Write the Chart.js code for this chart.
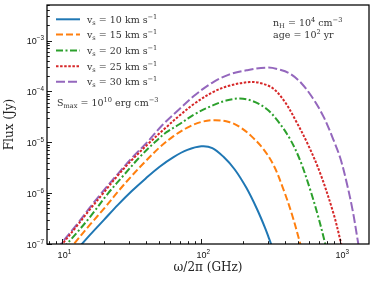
<!DOCTYPE html>
<html><head><meta charset="utf-8">
<script src="https://cdn.jsdelivr.net/npm/chart.js@4.4.0/dist/chart.umd.min.js"></script>
<style>html,body{margin:0;padding:0;background:#fff}#wrap{width:374px;height:281px}</style>
</head><body><div id="wrap"><canvas id="c" width="374" height="281"></canvas></div>
<script>
// ---- data (GHz, Jy) ----
const freq10 = [12.0, 15.8, 20.0, 25.1, 31.6, 39.8, 50.1, 63.1, 79.4, 100, 120, 145, 174, 211, 251, 288, 308, 331];
const flux10 = [6.46e-8, 1.51e-7, 3.02e-7, 5.89e-7, 1.10e-6, 1.95e-6, 3.31e-6, 5.13e-6, 7.08e-6, 8.32e-6, 7.7e-6, 5.12e-6, 2.92e-6, 1.27e-6, 4.93e-7, 2.06e-7, 1.26e-7, 7.35e-8];

const freq15 = [11.0, 12.0, 15.8, 20.0, 25.1, 31.6, 39.8, 50.1, 63.1, 79.4, 100, 126, 158, 189, 229, 279, 331, 388, 447, 512, 550];
const flux15 = [7.24e-8, 9.77e-8, 2.40e-7, 5.01e-7, 1.07e-6, 2.19e-6, 4.27e-6, 7.94e-6, 1.32e-5, 1.95e-5, 2.51e-5, 2.72e-5, 2.51e-5, 2.00e-5, 1.32e-5, 7.41e-6, 3.55e-6, 1.23e-6, 3.98e-7, 1.08e-7, 5.01e-8];

const freq20 = [10.0, 10.7, 12.6, 15.8, 21.4, 28.2, 35.5, 46.2, 56.2, 70.0, 89.1, 122, 151, 189, 234, 294, 355, 434, 513, 604, 692, 774, 813];
const flux20 = [7.94e-8, 9.77e-8, 1.62e-7, 3.39e-7, 1.00e-6, 2.40e-6, 4.90e-6, 1.00e-5, 1.58e-5, 2.29e-5, 3.55e-5, 5.37e-5, 6.61e-5, 7.24e-5, 6.46e-5, 4.57e-5, 2.63e-5, 1.17e-5, 4.47e-6, 1.23e-6, 3.55e-7, 1.08e-7, 5.62e-8];

const freq25 = [9.33, 10.0, 12.6, 15.8, 19.7, 25.1, 31.6, 42.6, 56.2, 70.0, 89.1, 122, 158, 223, 269, 329, 398, 484, 589, 713, 887, 1009, 1072];
const flux25 = [7.94e-8, 1.00e-7, 2.19e-7, 4.79e-7, 1.00e-6, 2.24e-6, 4.47e-6, 1.00e-5, 2.00e-5, 3.39e-5, 5.75e-5, 9.77e-5, 1.29e-4, 1.53e-4, 1.45e-4, 1.14e-4, 6.31e-5, 2.51e-5, 8.71e-6, 2.57e-6, 4.27e-7, 1.08e-7, 5.01e-8];

const freq30 = [9.12, 9.77, 12.6, 15.8, 19.1, 25.1, 31.6, 41.4, 52.5, 70.0, 91.2, 122, 158, 211, 303, 363, 434, 525, 637, 759, 887, 1000, 1109, 1230, 1343, 1413];
const flux30 = [7.59e-8, 1.00e-7, 2.34e-7, 5.25e-7, 1.00e-6, 2.40e-6, 4.90e-6, 1.05e-5, 2.19e-5, 4.57e-5, 8.71e-5, 1.53e-4, 2.14e-4, 2.60e-4, 2.95e-4, 2.69e-4, 2.24e-4, 1.45e-4, 7.24e-5, 3.16e-5, 1.17e-5, 4.90e-6, 1.66e-6, 4.47e-7, 1.08e-7, 5.01e-8];

const speeds = ['10', '15', '20', '25', '30'];
const xTickValues = [10, 100, 1000];
const xTickExp = ['1', '2', '3'];
const yTickValues = [1e-7, 1e-6, 1e-5, 1e-4, 1e-3];
const yTickExp = ['\u22127', '\u22126', '\u22125', '\u22124', '\u22123'];

// ---- styling ----
const colors = ['#1f77b4', '#ff7f0e', '#2ca02c', '#d62728', '#9467bd'];
const dashes = [[], [7, 3], [7, 2.5, 2, 2.5], [2.5, 1.6], [9, 3]];
const freqs = [freq10, freq15, freq20, freq25, freq30];
const fluxes = [flux10, flux15, flux20, flux25, flux30];

const datasets = speeds.map((s, i) => ({
  label: 'vs = ' + s + ' km s-1',
  data: freqs[i].map((f, j) => ({x: f, y: fluxes[i][j]})),
  borderColor: colors[i],
  borderWidth: 2,
  borderDash: dashes[i],
  pointRadius: 0,
  fill: false,
  tension: 0.35
}));

function drawRich(ctx, parts, x, y, align, size, family, color) {
  ctx.save();
  ctx.fillStyle = color;
  ctx.textBaseline = 'alphabetic';
  ctx.textAlign = 'left';
  const widths = parts.map(p => {
    const fs = p.s ? size * 0.7 : size;
    ctx.font = fs + 'px ' + family;
    return ctx.measureText(p.t).width;
  });
  const total = widths.reduce((a, b) => a + b, 0);
  let cx = align === 'right' ? x - total : align === 'center' ? x - total / 2 : x;
  parts.forEach((p, i) => {
    const fs = p.s ? size * 0.7 : size;
    ctx.font = fs + 'px ' + family;
    let dy = 0;
    if (p.s === 'sup') dy = -size * 0.42;
    if (p.s === 'sub') dy = size * 0.25;
    ctx.fillText(p.t, cx, y + dy);
    cx += widths[i];
  });
  ctx.restore();
}

const SERIF = '"DejaVu Serif", serif';
const SANS = '"Liberation Sans", Arial, sans-serif';

const decor = {
  id: 'decor',
  afterDatasetsDraw(chart) {
    const ctx = chart.ctx;
    const a = chart.chartArea;
    const xs = chart.scales.x, ys = chart.scales.y;
    ctx.save();
    // frame
    ctx.strokeStyle = '#000';
    ctx.lineWidth = 1.25;
    ctx.strokeRect(a.left, a.top, a.right - a.left, a.bottom - a.top);
    // ticks (inward)
    ctx.lineWidth = 0.9;
    ctx.beginPath();
    for (let e = 0; e <= 3; e++) {
      for (let k = 1; k <= 9; k++) {
        const v = k * Math.pow(10, e);
        if (v < xs.min || v > xs.max) continue;
        const px = Math.round(xs.getPixelForValue(v)) + 0.5;
        const len = k === 1 ? 5 : 2.8;
        ctx.moveTo(px, a.bottom); ctx.lineTo(px, a.bottom - len);
      }
    }
    for (let e = -8; e <= -3; e++) {
      for (let k = 1; k <= 9; k++) {
        const v = k * Math.pow(10, e);
        if (v < ys.min * 0.999 || v > ys.max) continue;
        const py = Math.round(ys.getPixelForValue(v)) + 0.5;
        const len = k === 1 ? 5 : 2.8;
        ctx.moveTo(a.left, py); ctx.lineTo(a.left + len, py);
      }
    }
    ctx.stroke();
    // tick labels
    xTickValues.forEach((v, i) => {
      const px = xs.getPixelForValue(v);
      drawRich(ctx, [{t: '10'}, {t: xTickExp[i], s: 'sup'}], px + 2, a.bottom + 14, 'center', 9, SANS, '#111');
    });
    yTickValues.forEach((v, i) => {
      const py = ys.getPixelForValue(v);
      drawRich(ctx, [{t: '10'}, {t: yTickExp[i], s: 'sup'}], a.left - 3, py + 3.5, 'right', 9, SANS, '#111');
    });
    // axis titles
    drawRich(ctx, [{t: '\u03c9/2\u03c0 (GHz)'}], (a.left + a.right) / 2 + 0, 271, 'center', 12, SERIF, '#222');
    ctx.save();
    ctx.translate(13, (a.top + a.bottom) / 2);
    ctx.rotate(-Math.PI / 2);
    drawRich(ctx, [{t: 'Flux (Jy)'}], 0, 0, 'center', 12, SERIF, '#222');
    ctx.restore();
    // legend
    const rowY = [19.3, 34.6, 50.4, 66.2, 81.8];
    speeds.forEach((s, i) => {
      ctx.save();
      ctx.strokeStyle = colors[i];
      ctx.lineWidth = 2;
      ctx.setLineDash(dashes[i]);
      ctx.beginPath();
      ctx.moveTo(56, rowY[i]); ctx.lineTo(80, rowY[i]);
      ctx.stroke();
      ctx.restore();
      drawRich(ctx, [{t: 'v'}, {t: 's', s: 'sub'}, {t: ' = ' + s + ' km s'}, {t: '\u22121', s: 'sup'}], 87, rowY[i] + 3.3, 'left', 9.5, SERIF, '#333');
    });
    // annotations
    drawRich(ctx, [{t: 'S'}, {t: 'max', s: 'sub'}, {t: ' = 10'}, {t: '10', s: 'sup'}, {t: ' erg cm'}, {t: '\u22123', s: 'sup'}], 57, 106, 'left', 9.5, SERIF, '#333');
    drawRich(ctx, [{t: 'n'}, {t: 'H', s: 'sub'}, {t: ' = 10'}, {t: '4', s: 'sup'}, {t: ' cm'}, {t: '\u22123', s: 'sup'}], 273, 25.5, 'left', 9.5, SERIF, '#333');
    drawRich(ctx, [{t: 'age = 10'}, {t: '2', s: 'sup'}, {t: ' yr'}], 273, 37.5, 'left', 9.5, SERIF, '#333');
    ctx.restore();
  }
};

new Chart(document.getElementById('c'), {
  type: 'line',
  data: {datasets},
  options: {
    responsive: false,
    animation: false,
    devicePixelRatio: 1,
    layout: {padding: {left: 47, right: 5, top: 5, bottom: 37}},
    plugins: {legend: {display: false}, tooltip: {enabled: false}},
    scales: {
      x: {type: 'logarithmic', min: 7.75, max: 1610,
          ticks: {display: false}, grid: {display: false, drawTicks: false}, border: {display: false}},
      y: {type: 'logarithmic', min: 1e-7, max: 5e-3,
          ticks: {display: false}, grid: {display: false, drawTicks: false}, border: {display: false}}
    }
  },
  plugins: [decor]
});
</script>
</body></html>
